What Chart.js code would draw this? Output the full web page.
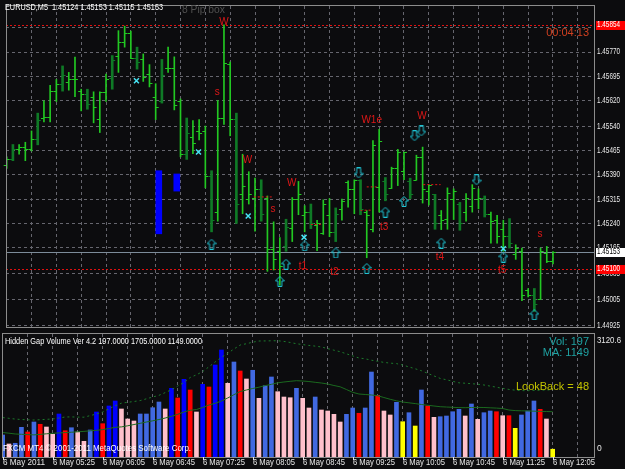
<!DOCTYPE html>
<html>
<head>
<meta charset="utf-8">
<title>EURUSD,M5</title>
<script src="https://cdn.jsdelivr.net/npm/chart.js@4.4.1/dist/chart.umd.min.js"></script>
<style>
  html, body { margin: 0; padding: 0; background: #0c0c0e; }
  #wrap { position: relative; width: 625px; height: 469px; overflow: hidden; }
  #priceChart { position: absolute; left: 0; top: 0; }
  #volChart { position: absolute; left: 0; top: 332px; }
</style>
</head>
<body>
<div id="wrap">
  <canvas id="priceChart" width="625" height="333"></canvas>
  <canvas id="volChart" width="625" height="137"></canvas>
</div>
<script>
// ---- data ----
const timeLabels = ['6 May 2011', '6 May 05:25', '6 May 06:05', '6 May 06:45', '6 May 07:25', '6 May 08:05',
  '6 May 08:45', '6 May 09:25', '6 May 10:05', '6 May 10:45', '6 May 11:25', '6 May 12:05'];
const priceTicks = [1.44925, 1.45005, 1.45085, 1.45165, 1.45240, 1.45315, 1.45390,
  1.45465, 1.45540, 1.45620, 1.45695, 1.45770, 1.45845];

const open = [1.45421,1.45440,1.45471,1.45475,1.45470,1.45500,1.45566,1.45568,1.45650,1.45672,
  1.45678,1.45685,1.45650,1.45640,1.45632,1.45562,1.45647,1.45690,1.45757,1.45802,
  1.45828,1.45752,1.45747,1.45702,1.45632,1.45620,1.45722,1.45719,1.45617,1.45454,
  1.45506,1.45526,1.45526,1.45387,1.45275,1.45566,1.45734,1.45562,1.45332,1.45315,
  1.45320,1.45345,1.45320,1.45160,1.45154,1.45170,1.45226,1.45315,1.45267,1.45275,
  1.45236,1.45209,1.45265,1.45214,1.45285,1.45367,1.45348,1.45375,1.45275,1.45224,
  1.45353,1.45370,1.45350,1.45410,1.45403,1.45370,1.45375,1.45446,1.45340,1.45330,
  1.45265,1.45255,1.45315,1.45300,1.45275,1.45295,1.45315,1.45320,1.45270,1.45250,
  1.45222,1.45200,1.45146,1.45154,1.45033,1.45020,1.45008,1.45149,1.45124];
const high = [1.45446,1.45484,1.45484,1.45491,1.45526,1.45581,1.45619,1.45667,1.45685,1.45727,
  1.45707,1.45754,1.45655,1.45655,1.45647,1.45647,1.45702,1.45759,1.45836,1.45850,
  1.45835,1.45785,1.45764,1.45731,1.45672,1.45747,1.45785,1.45755,1.45625,1.45566,
  1.45558,1.45561,1.45541,1.45403,1.45620,1.45854,1.45739,1.45581,1.45454,1.45400,
  1.45380,1.45375,1.45325,1.45245,1.45196,1.45253,1.45320,1.45370,1.45295,1.45300,
  1.45250,1.45313,1.45317,1.45288,1.45315,1.45372,1.45375,1.45375,1.45280,1.45496,
  1.45531,1.45382,1.45414,1.45469,1.45461,1.45380,1.45451,1.45476,1.45360,1.45330,
  1.45280,1.45350,1.45347,1.45305,1.45332,1.45360,1.45347,1.45325,1.45275,1.45265,
  1.45250,1.45255,1.45174,1.45164,1.45039,1.45039,1.45164,1.45169,1.45153];
const low = [1.45410,1.45434,1.45454,1.45434,1.45464,1.45483,1.45554,1.45554,1.45617,1.45649,
  1.45652,1.45632,1.45588,1.45593,1.45551,1.45521,1.45617,1.45655,1.45707,1.45785,
  1.45749,1.45717,1.45679,1.45662,1.45561,1.45612,1.45707,1.45591,1.45446,1.45438,
  1.45456,1.45498,1.45350,1.45214,1.45247,1.45546,1.45511,1.45240,1.45270,1.45300,
  1.45216,1.45247,1.45092,1.45096,1.45049,1.45154,1.45184,1.45267,1.45214,1.45224,
  1.45156,1.45206,1.45199,1.45184,1.45250,1.45290,1.45270,1.45267,1.45134,1.45214,
  1.45275,1.45310,1.45348,1.45357,1.45375,1.45317,1.45374,1.45303,1.45297,1.45222,
  1.45221,1.45222,1.45252,1.45219,1.45247,1.45275,1.45285,1.45260,1.45179,1.45179,
  1.45154,1.45164,1.45129,1.45001,1.45013,1.44968,1.45005,1.45119,1.45115];
const close = [1.45440,1.45470,1.45476,1.45470,1.45501,1.45560,1.45568,1.45649,1.45672,1.45700,
  1.45685,1.45687,1.45640,1.45610,1.45600,1.45645,1.45687,1.45745,1.45802,1.45828,
  1.45752,1.45740,1.45692,1.45674,1.45600,1.45700,1.45719,1.45606,1.45454,1.45520,
  1.45490,1.45520,1.45387,1.45250,1.45566,1.45737,1.45562,1.45300,1.45355,1.45330,
  1.45345,1.45270,1.45160,1.45130,1.45110,1.45230,1.45315,1.45330,1.45275,1.45240,
  1.45240,1.45300,1.45214,1.45270,1.45310,1.45345,1.45375,1.45285,1.45265,1.45481,
  1.45496,1.45330,1.45410,1.45461,1.45461,1.45330,1.45446,1.45345,1.45360,1.45240,
  1.45250,1.45335,1.45340,1.45240,1.45320,1.45350,1.45320,1.45270,1.45247,1.45200,
  1.45200,1.45180,1.45164,1.45020,1.45020,1.44990,1.45154,1.45124,1.45153];

// pip boxes (blue blocks)
const boxIdx = [24.5, 27.4];
const boxLow = [1.45208, 1.45340];
const boxHigh = [1.45403, 1.45393];

// signal arrows and crosses
const upIdx = [33, 44, 45, 48, 53, 58, 61, 64, 70, 80, 85];
const upPrice = [1.45176, 1.45061, 1.45114, 1.45171, 1.45149, 1.45101, 1.45275, 1.45308, 1.45179, 1.45136, 1.44958];
const downIdx = [56.7, 65.7, 66.8, 75.7];
const downPrice = [1.45396, 1.45511, 1.45526, 1.45375];
const crossIdx = [20.9, 30.9, 38.9, 47.9, 80];
const crossPrice = [1.45681, 1.45461, 1.45263, 1.45197, 1.45162];

// red wave tags
const tagText = ['W', 's', 'W', 's', 'W', 't1', 't2', 'W1e', 't3', 'W', 't4', 't5', 's'];
const tagIdx = [35, 33.9, 38.8, 42.9, 45.9, 47.7, 52.8, 58.8, 60.8, 66.9, 69.8, 79.8, 85.9];
const tagPrice = [1.45862, 1.45645, 1.45436, 1.45283, 1.45365, 1.45109, 1.45089, 1.45558, 1.45227, 1.45571, 1.45134, 1.45096, 1.45206];

// short red level dashes
const segFrom = [39.8, 49.0, 57.0, 58.0, 67.1];
const segTo = [42.9, 50.8, 58.9, 59.8, 69.9];
const segPrice = [1.45322, 1.45237, 1.45281, 1.45353, 1.45360];

const highMark = 1.45854;
const lowMark = 1.45100;
const bidPrice = 1.45153;

// Hidden Gap Volume
const volume = [558,330,348,753,634,888,830,761,576,1091,
  667,743,634,398,685,1142,845,1294,1421,1218,
  964,913,1091,1091,1251,1395,1218,1743,1497,1971,
  1700,1142,1844,1776,2334,2715,1870,2410,2182,1979,
  2200,1489,1809,2030,1657,1522,1504,1743,1489,1243,
  1522,1192,1167,1083,888,1083,1243,1109,1243,2156,
  1565,1167,1066,1388,896,1124,786,1700,1294,1007,
  1022,1040,1149,1210,1040,1345,956,1124,1167,1149,
  1048,1048,728,1066,1167,1421,1210,964,197];
// B strong up, R up, r strong down, p down, y low
const volKind = ['R','p','R','R','r','R','r','p','p','B',
  'r','R','p','p','R','B','r','B','B','p',
  'p','p','R','R','R','R','p','B','r','B',
  'r','p','B','r','B','B','p','R','r','p',
  'R','p','R','R','p','p','p','R','p','p',
  'R','p','p','p','p','R','R','r','R','R',
  'r','p','p','R','y','R','y','R','r','p',
  'R','R','R','R','p','R','p','R','R','r',
  'p','r','y','R','R','R','r','p','y'];
const volMA = [622,604,584,576,568,561,573,589,601,611,
  619,629,639,650,665,677,695,723,753,764,
  792,824,855,888,918,951,989,1033,1083,1142,
  1185,1205,1256,1319,1362,1421,1497,1581,1662,1700,
  1738,1771,1811,1844,1882,1903,1920,1936,1928,1915,
  1895,1877,1852,1814,1781,1712,1641,1598,1586,1573,
  1555,1509,1464,1426,1395,1375,1355,1332,1312,1294,
  1276,1268,1261,1253,1251,1256,1258,1256,1248,1241,
  1230,1192,1177,1172,1168,1163,1158,1154,1149];
const volBand = [1000,982,962,951,944,939,946,956,964,989,
  1015,1017,1012,1010,1050,1091,1142,1223,1301,1365,
  1388,1408,1431,1477,1522,1565,1634,1707,1801,1890,
  2017,2085,2169,2288,2413,2529,2631,2740,2841,2874,
  2912,2943,2945,2948,2950,2933,2905,2874,2852,2831,
  2813,2791,2750,2710,2671,2618,2565,2512,2491,2456,
  2428,2400,2382,2369,2334,2286,2238,2189,2123,2057,
  1994,1959,1920,1882,1872,1860,1847,1827,1799,1771,
  1740,1715,1695,1684,1682,1690,1695,1700,1705];
const volMax = 3120.6;

// ---- styles ----
const GRID = '#66666e';
const BORDER = '#8c8c8c';
const BAR_UP = '#22c822';
const BAR_DARK = '#0f7a26';
const TEXT = '#e8e8e8';
const FONT = '"Liberation Sans", Arial, sans-serif';
const kindColor = { B: '#0000ff', R: '#4169e1', r: '#ff0000', p: '#ffc0cb', y: '#ffff00' };

const xMin = -0.112, xMax = 94.608;
const gridIdx = [];
for (let v = 0; v <= 92; v += 4) gridIdx.push(v);
const idx = high.map((_, i) => i);
const isDark = i => i % 4 === 1;

function arrowImage(up) {
  const c = document.createElement('canvas');
  c.width = 10; c.height = 11;
  const g = c.getContext('2d');
  g.strokeStyle = '#1fc4d4';
  g.lineWidth = 1;
  const pts = [[5, 0.5], [9.5, 5], [7, 5], [7, 10.5], [3, 10.5], [3, 5], [0.5, 5]];
  g.beginPath();
  pts.forEach(([px, py], k) => {
    const yy = up ? py : 11 - py;
    if (k) g.lineTo(px, yy); else g.moveTo(px, yy);
  });
  g.closePath();
  g.stroke();
  return c;
}

// ---- price panel overlay ----
const priceOverlay = {
  id: 'priceOverlay',
  beforeDatasetsDraw(chart) {
    const { ctx, chartArea: a, scales: { y } } = chart;
    ctx.save();
    ctx.lineWidth = 1;
    // extreme levels
    ctx.strokeStyle = '#e01010';
    ctx.setLineDash([2, 2]);
    [highMark, lowMark].forEach(v => {
      const py = Math.round(y.getPixelForValue(v)) + 0.5;
      ctx.beginPath(); ctx.moveTo(a.left, py); ctx.lineTo(a.right, py); ctx.stroke();
    });
    // bid line
    ctx.setLineDash([]);
    ctx.strokeStyle = '#7d8c9a';
    const by = Math.round(y.getPixelForValue(bidPrice)) + 0.5;
    ctx.beginPath(); ctx.moveTo(a.left, by); ctx.lineTo(a.right, by); ctx.stroke();
    ctx.restore();
  },
  afterDatasetsDraw(chart) {
    const { ctx, scales: { x, y } } = chart;
    ctx.save();
    // open / close ticks
    ctx.lineWidth = 1;
    idx.forEach(i => {
      const px = x.getPixelForValue(i);
      const yo = Math.round(y.getPixelForValue(open[i])) + 0.5;
      const yc = Math.round(y.getPixelForValue(close[i])) + 0.5;
      ctx.strokeStyle = isDark(i) ? BAR_DARK : BAR_UP;
      ctx.beginPath();
      ctx.moveTo(px - 3, yo); ctx.lineTo(px, yo);
      ctx.moveTo(px, yc); ctx.lineTo(px + 3, yc);
      ctx.stroke();
    });
    // red tags
    ctx.fillStyle = '#e01818';
    ctx.font = '10px ' + FONT;
    ctx.textAlign = 'center';
    ctx.textBaseline = 'middle';
    tagText.forEach((t, k) => ctx.fillText(t, x.getPixelForValue(tagIdx[k]), y.getPixelForValue(tagPrice[k])));
    ctx.restore();
  },
  afterDraw(chart) {
    const { ctx, chartArea: a, scales: { y } } = chart;
    ctx.save();
    // frame
    ctx.strokeStyle = BORDER;
    ctx.lineWidth = 1;
    ctx.strokeRect(a.left + 0.5, a.top - 0.5, a.right - a.left, a.bottom - a.top + 1);
    // header texts
    ctx.textBaseline = 'middle';
    ctx.textAlign = 'left';
    ctx.fillStyle = '#ffffff';
    ctx.font = '8.5px ' + FONT;
    ctx.fillText('EURUSD,M5  1.45124 1.45153 1.45115 1.45153', 5, 8, 158);
    ctx.fillStyle = '#505050';
    ctx.font = '11px ' + FONT;
    ctx.fillText('8 Pip box', 182, 10, 43);
    ctx.fillStyle = '#d04020';
    ctx.textAlign = 'right';
    ctx.fillText('00:04:13', 589, 33, 46);
    // price scale
    ctx.textAlign = 'left';
    ctx.font = '8.5px ' + FONT;
    ctx.fillStyle = TEXT;
    priceTicks.forEach(v => ctx.fillText(v.toFixed(5), a.right + 3, y.getPixelForValue(v), 23));
    const tag = (v, bg, fg) => {
      const py = y.getPixelForValue(v);
      ctx.fillStyle = bg;
      ctx.fillRect(a.right + 2, Math.round(py) - 4, 31, 9);
      ctx.fillStyle = fg;
      ctx.fillText(v.toFixed(5), a.right + 3, py, 23);
    };
    tag(highMark, '#ff0000', '#ffffff');
    tag(lowMark, '#ff0000', '#ffffff');
    tag(bidPrice, '#ffffff', '#000000');
    ctx.restore();
  }
};

const priceChart = new Chart(document.getElementById('priceChart'), {
  type: 'bar',
  data: {
    datasets: [
      {
        type: 'scatter', label: 'up',
        data: upIdx.map((v, k) => ({ x: v, y: upPrice[k] })),
        pointStyle: arrowImage(true), pointRadius: 5
      },
      {
        type: 'scatter', label: 'down',
        data: downIdx.map((v, k) => ({ x: v, y: downPrice[k] })),
        pointStyle: arrowImage(false), pointRadius: 5
      },
      {
        type: 'scatter', label: 'cross',
        data: crossIdx.map((v, k) => ({ x: v, y: crossPrice[k] })),
        pointStyle: 'crossRot', pointRadius: 3.5, borderWidth: 1.5,
        borderColor: '#48e4f4', backgroundColor: '#48e4f4'
      },
      ...segFrom.map((v, k) => ({
        type: 'line', label: 'level ' + k,
        data: [{ x: v, y: segPrice[k] }, { x: segTo[k], y: segPrice[k] }],
        borderColor: '#e01818', borderWidth: 1, borderDash: [2, 2], pointRadius: 0
      })),
      {
        label: 'range',
        data: idx.filter(i => !isDark(i)).map(i => ({ x: i, y: [low[i], high[i]] })),
        backgroundColor: BAR_UP, barThickness: 1, grouped: false
      },
      {
        label: 'range dark',
        data: idx.filter(isDark).map(i => ({ x: i, y: [low[i], high[i]] })),
        backgroundColor: BAR_DARK, barThickness: 2, grouped: false
      },
      {
        label: 'pip box',
        data: boxIdx.map((v, k) => ({ x: v, y: [boxLow[k], boxHigh[k]] })),
        backgroundColor: '#0000ff', barThickness: 6, grouped: false
      }
    ]
  },
  options: {
    responsive: false,
    animation: false,
    events: [],
    layout: { padding: { left: 2, top: 2, right: 0, bottom: 0 } },
    plugins: { legend: { display: false }, tooltip: { enabled: false } },
    scales: {
      x: {
        type: 'linear', min: xMin, max: xMax, offset: false,
        grid: { color: GRID, drawTicks: false, offset: false },
        border: { display: false, dash: [3, 3] },
        ticks: { display: false },
        afterBuildTicks: s => { s.ticks = gridIdx.map(v => ({ value: v })); },
        afterFit: s => { s.height = 2; }
      },
      y: {
        type: 'linear', position: 'right', min: 1.449199, max: 1.459122,
        grid: { color: GRID, drawTicks: false },
        border: { display: false, dash: [3, 3] },
        ticks: { display: false },
        afterBuildTicks: s => { s.ticks = priceTicks.map(v => ({ value: v })); },
        afterFit: s => { s.width = 31; }
      }
    }
  },
  plugins: [priceOverlay]
});

// ---- volume panel overlay ----
const volOverlay = {
  id: 'volOverlay',
  afterDraw(chart) {
    const { ctx, chartArea: a, scales: { x } } = chart;
    ctx.save();
    ctx.strokeStyle = BORDER;
    ctx.lineWidth = 1;
    ctx.strokeRect(a.left + 0.5, a.top - 0.5, a.right - a.left, a.bottom - a.top + 1);

    ctx.textBaseline = 'middle';
    ctx.textAlign = 'left';
    ctx.font = '8.5px ' + FONT;
    ctx.fillStyle = '#ffffff';
    ctx.fillText('Hidden Gap Volume Ver 4.2 197.0000 1705.0000 1149.0000', 5, 10, 197);
    ctx.fillText('FXCM MT4 \u00a9 2001-2011 MetaQuotes Software Corp.', 3, 117, 188);

    // value scale
    ctx.fillStyle = TEXT;
    ctx.fillText(String(volMax), a.right + 3, 9, 24);
    ctx.fillText('0', a.right + 3, 117);

    // time axis
    timeLabels.forEach((t, k) => {
      const px = Math.round(x.getPixelForValue(k * 8)) + 0.5;
      ctx.strokeStyle = TEXT;
      ctx.beginPath(); ctx.moveTo(px, a.bottom); ctx.lineTo(px, a.bottom + 3); ctx.stroke();
      ctx.fillText(t, px - 0.5, 130.5, 42);
    });

    // indicator readouts
    ctx.textAlign = 'right';
    ctx.font = '11px ' + FONT;
    ctx.fillStyle = '#1fa3a3';
    ctx.fillText('Vol: 197', 589, 10);
    ctx.fillText('MA: 1149', 589, 21);
    ctx.fillStyle = '#c4c400';
    ctx.fillText('LookBack = 48', 589, 55);
    ctx.restore();
  }
};

const volChart = new Chart(document.getElementById('volChart'), {
  type: 'bar',
  data: {
    datasets: [
      {
        type: 'line', label: 'band',
        data: idx.map(i => ({ x: i, y: volBand[i] })),
        borderColor: '#1d7a2c', borderWidth: 1, borderDash: [2, 3], pointRadius: 0
      },
      {
        type: 'line', label: 'MA',
        data: idx.map(i => ({ x: i, y: volMA[i] })),
        borderColor: '#1b6a1f', borderWidth: 1, pointRadius: 0
      },
      {
        label: 'volume',
        data: idx.map(i => ({ x: i, y: volume[i] })),
        backgroundColor: volKind.map(k => kindColor[k]),
        barThickness: 4, grouped: false
      }
    ]
  },
  options: {
    responsive: false,
    animation: false,
    events: [],
    layout: { padding: { left: 2, top: 2, right: 0, bottom: 0 } },
    plugins: { legend: { display: false }, tooltip: { enabled: false } },
    scales: {
      x: {
        type: 'linear', min: xMin, max: xMax, offset: false,
        grid: { color: GRID, drawTicks: false, offset: false },
        border: { display: false, dash: [3, 3] },
        ticks: { display: false },
        afterBuildTicks: s => { s.ticks = gridIdx.map(v => ({ value: v })); },
        afterFit: s => { s.height = 12; }
      },
      y: {
        type: 'linear', position: 'right', min: 0, max: volMax,
        grid: { display: false },
        border: { display: false },
        ticks: { display: false },
        afterFit: s => { s.width = 31; }
      }
    }
  },
  plugins: [volOverlay]
});
</script>
</body>
</html>
